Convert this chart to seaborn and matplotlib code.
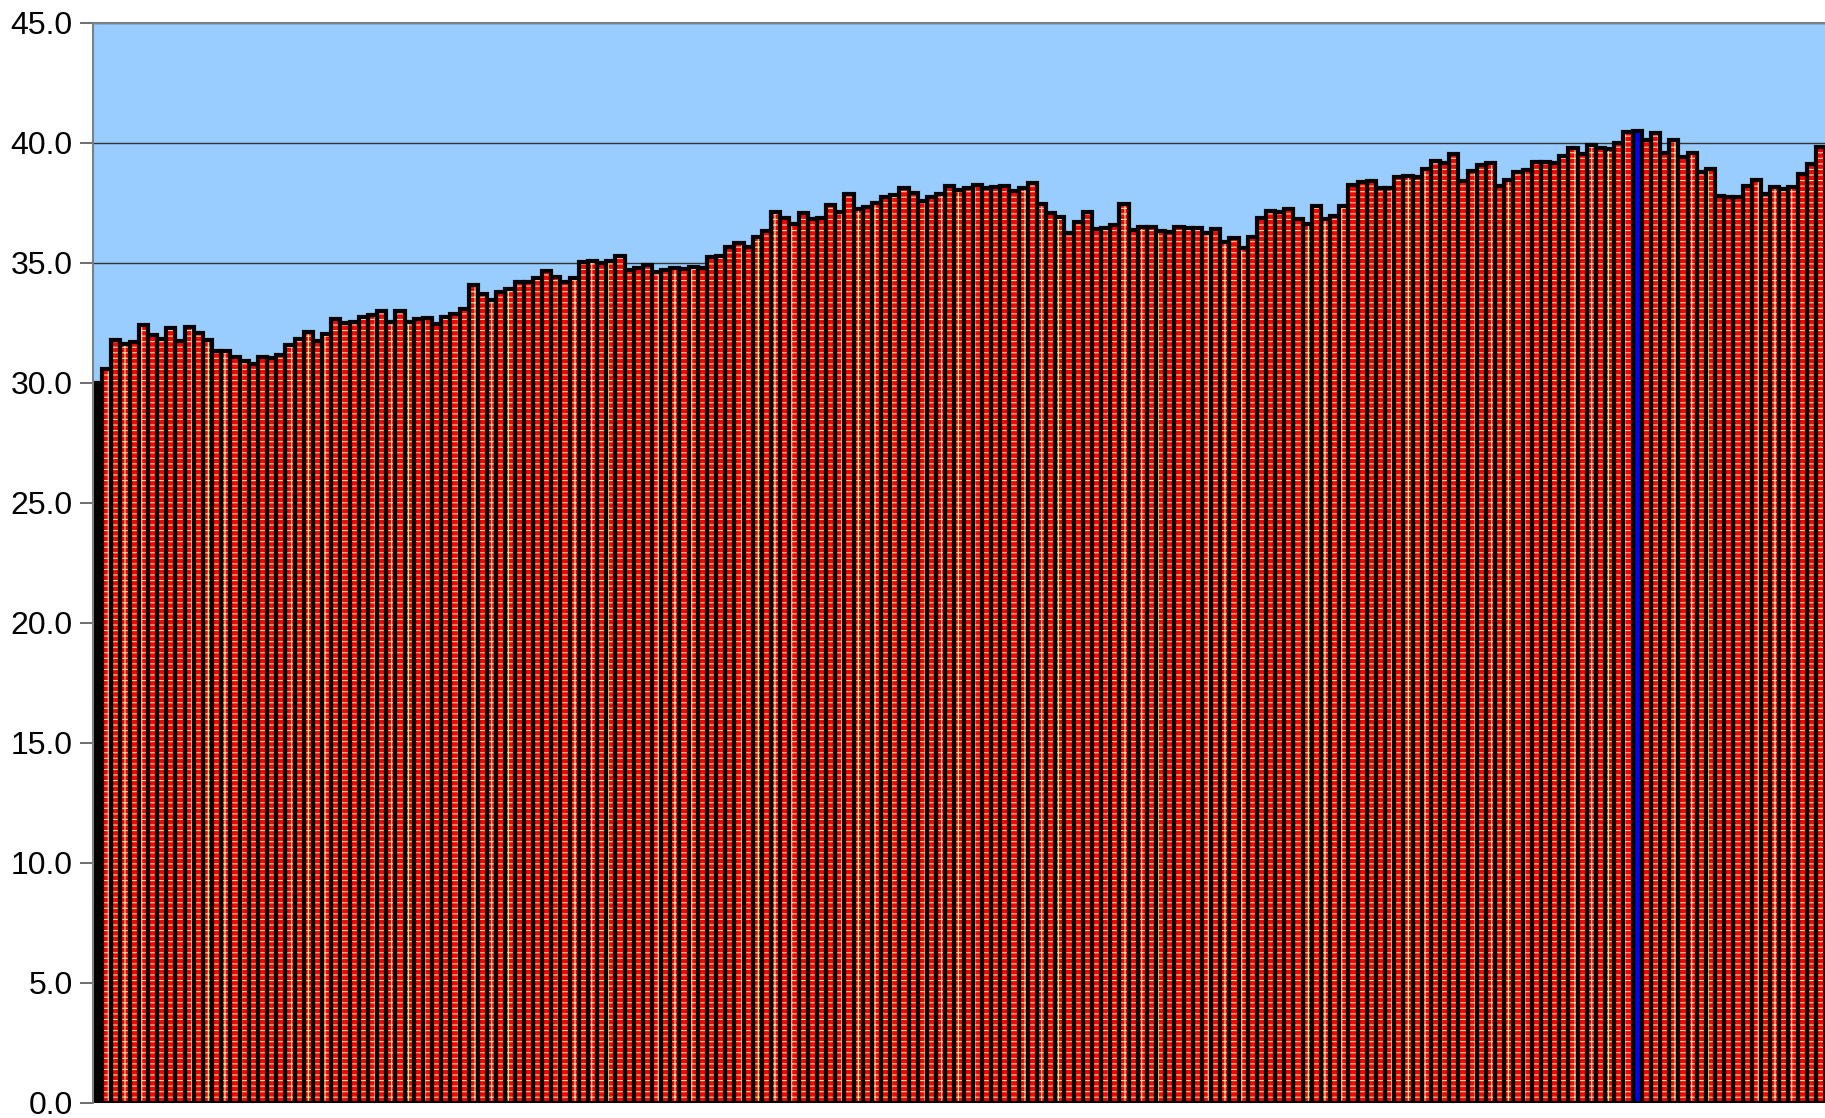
import numpy as np
import pandas as pd
import matplotlib
matplotlib.use("Agg")
import matplotlib.pyplot as plt
import seaborn as sns

# ---- data -------------------------------------------------------------
values = [
    30.00, 30.57, 31.78, 31.64, 31.71, 32.40, 32.01, 31.85, 32.29, 31.75,
    32.33, 32.08, 31.78, 31.33, 31.33, 31.08, 30.90, 30.81, 31.08, 31.04,
    31.17, 31.57, 31.82, 32.11, 31.74, 32.06, 32.65, 32.50, 32.53, 32.77,
    32.85, 33.02, 32.55, 32.98, 32.55, 32.65, 32.69, 32.46, 32.76, 32.86,
    33.07, 34.08, 33.69, 33.46, 33.81, 33.90, 34.22, 34.22, 34.36, 34.67,
    34.43, 34.19, 34.39, 35.05, 35.08, 35.01, 35.08, 35.29, 34.71, 34.81,
    34.92, 34.61, 34.71, 34.80, 34.76, 34.85, 34.80, 35.26, 35.30, 35.65,
    35.85, 35.65, 36.10, 36.35, 37.14, 36.86, 36.63, 37.07, 36.82, 36.86,
    37.42, 37.14, 37.86, 37.24, 37.35, 37.51, 37.74, 37.83, 38.14, 37.90,
    37.60, 37.76, 37.86, 38.22, 38.04, 38.11, 38.25, 38.11, 38.15, 38.22,
    38.01, 38.11, 38.32, 37.44, 37.07, 36.93, 36.26, 36.72, 37.11, 36.42,
    36.47, 36.58, 37.44, 36.38, 36.49, 36.51, 36.35, 36.31, 36.49, 36.44,
    36.44, 36.24, 36.40, 35.89, 36.03, 35.64, 36.10, 36.86, 37.18, 37.11,
    37.24, 36.83, 36.61, 37.38, 36.83, 36.97, 37.39, 38.25, 38.36, 38.43,
    38.11, 38.14, 38.57, 38.63, 38.60, 38.90, 39.26, 39.18, 39.54, 38.42,
    38.83, 39.08, 39.15, 38.22, 38.46, 38.81, 38.88, 39.22, 39.22, 39.18,
    39.46, 39.78, 39.54, 39.92, 39.81, 39.74, 39.99, 40.47, 40.49, 40.12,
    40.40, 39.57, 40.12, 39.43, 39.60, 38.81, 38.90, 37.80, 37.74, 37.76,
    38.21, 38.46, 37.86, 38.15, 38.08, 38.18, 38.71, 39.13, 39.85,
]
categories = [str(i) for i in range(len(values))]
highlight_first = 0      # black bar
highlight_blue = 168     # blue bar
y_ticks = [0, 5, 10, 15, 20, 25, 30, 35, 40, 45]
y_tick_labels = [f"{t:.1f}" for t in y_ticks]

RED = "#FF0000"
BLUE = "#0000FF"
BLACK = "#000000"
CREAM = "#FFE0A0"
BG = "#99CCFF"

colors = [RED] * len(values)
colors[highlight_first] = BLACK
colors[highlight_blue] = BLUE

df = pd.DataFrame({"cat": categories, "val": values})

# ---- figure -----------------------------------------------------------
sns.set_style("white")
plt.rcParams["font.family"] = ["Liberation Sans", "DejaVu Sans"]
plt.rcParams["hatch.linewidth"] = 0.8

fig = plt.figure(figsize=(18.25, 11.18), dpi=100)
ax = fig.add_axes([93 / 1825, 15 / 1118, 1 - 93 / 1825, (1103 - 23) / 1118])
ax.set_facecolor(BG)

sns.barplot(data=df, x="cat", y="val", hue="cat", palette=colors,
            width=1.0, legend=False, ax=ax, linewidth=0, saturation=1)
for i, p in enumerate(ax.patches):
    p.set_linewidth(0)
    if colors[i] == RED:
        p.set_hatch("---|")
        p.set_edgecolor(CREAM)
    else:
        p.set_edgecolor(colors[i])

# outlines
sns.barplot(data=df, x="cat", y="val", width=1.0, fill=False,
            color=BLACK, linewidth=3.0, ax=ax, saturation=1)

ax.set_xlim(-0.5, len(values) - 0.5)
ax.set_ylim(0, 45)
ax.set_yticks(y_ticks)
ax.set_yticklabels(y_tick_labels, fontsize=23, color="black")
ax.set_xticks([])
ax.set_xlabel("")
ax.set_ylabel("")

ax.set_axisbelow(True)
ax.yaxis.grid(True, color="#333333", linewidth=1.0)
ax.xaxis.grid(False)
ax.tick_params(axis="y", direction="out", length=9.5, width=1.2,
               color="#555555", pad=5, left=True)

for side in ["left", "top"]:
    ax.spines[side].set_visible(True)
    ax.spines[side].set_color("#808080")
    ax.spines[side].set_linewidth(1.5)
ax.spines["right"].set_visible(False)
ax.spines["bottom"].set_visible(False)

fig.savefig("out.png", dpi=100, facecolor="white")
